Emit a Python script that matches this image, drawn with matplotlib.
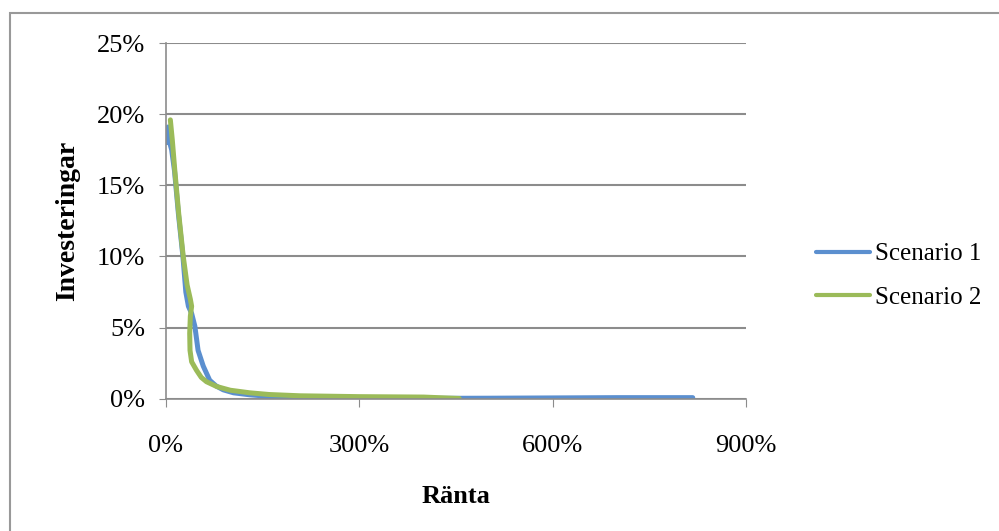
import matplotlib
matplotlib.use('Agg')
import matplotlib.pyplot as plt
from matplotlib.patches import Rectangle
from matplotlib.ticker import FuncFormatter

plt.rcParams.update({
    'font.family': ['Liberation Serif', 'DejaVu Serif'],
    'font.size': 19,
})

# Data (x = ränta %, y = investeringar %)
s1_x = [1.5, 3.6, 6, 9, 13.5, 19.5, 26.5, 31, 35, 40, 45, 50, 58, 68, 78, 89, 105, 130, 160, 208, 300, 400, 500, 600, 700, 817]
s1_y = [18.0, 19.1, 18.0, 17.5, 16.0, 13.0, 10.0, 7.5, 6.5, 6.0, 5.1, 3.4, 2.3, 1.3, 0.9, 0.63, 0.42, 0.28, 0.17, 0.10, 0.05, 0.03, 0.04, 0.06, 0.08, 0.08]
s2_x = [7, 10, 14, 20, 27, 33, 38, 40, 38, 37, 37.5, 40, 47.6, 55, 63, 79, 100, 130, 160, 208, 300, 400, 455]
s2_y = [19.6, 18.2, 16.0, 13.0, 10.0, 8.0, 7.0, 6.5, 5.8, 4.6, 3.4, 2.6, 2.0, 1.5, 1.2, 0.86, 0.6, 0.42, 0.3, 0.21, 0.15, 0.12, 0.02]

fig = plt.figure(figsize=(9.99, 5.31), dpi=100)
fig.patches.append(Rectangle((10 / 999, -0.01), 1.0, 1 - 13 / 531 + 0.01,
                             transform=fig.transFigure, fill=False,
                             edgecolor='#999999', linewidth=1.5))

ax = fig.add_axes([0.166, 0.249, 0.581, 0.670])
ax.plot(s1_x, s1_y, color='#5B8FCF', linewidth=3.6, label='Scenario 1',
        solid_capstyle='round', solid_joinstyle='round')
ax.plot(s2_x, s2_y, color='#9BBB59', linewidth=3.6, label='Scenario 2',
        solid_capstyle='round', solid_joinstyle='round')

ax.set_xlim(0, 900)
ax.set_ylim(0, 25)
ax.set_xticks([0, 300, 600, 900])
ax.set_yticks([0, 5, 10, 15, 20, 25])
ax.xaxis.set_major_formatter(FuncFormatter(lambda v, p: f'{v:.0f}%'))
ax.yaxis.set_major_formatter(FuncFormatter(lambda v, p: f'{v:.0f}%'))
ax.grid(axis='y', color='#8c8c8c', linewidth=1.5)
ax.set_axisbelow(True)
for s in ['top', 'right']:
    ax.spines[s].set_visible(False)
for s in ['left', 'bottom']:
    ax.spines[s].set_color('#8c8c8c')
    ax.spines[s].set_linewidth(1.2)
ax.tick_params(axis='x', length=6, color='#8c8c8c', pad=20, labelsize=19)
ax.tick_params(axis='y', length=5, color='#8c8c8c', pad=10, labelsize=19)

ax.set_xlabel('Ränta', fontsize=19, fontweight='bold', labelpad=20)
ax.set_ylabel('Investeringar', fontsize=20, fontweight='bold', labelpad=12)

leg = ax.legend(loc='center left', bbox_to_anchor=(1.121, 0.345), frameon=False,
                fontsize=18, handlelength=2.15, handletextpad=0.2, labelspacing=0.85,
                borderpad=0, borderaxespad=0)
for h in leg.get_lines():
    h.set_linewidth(3)

plt.savefig('out.png', dpi=100)
